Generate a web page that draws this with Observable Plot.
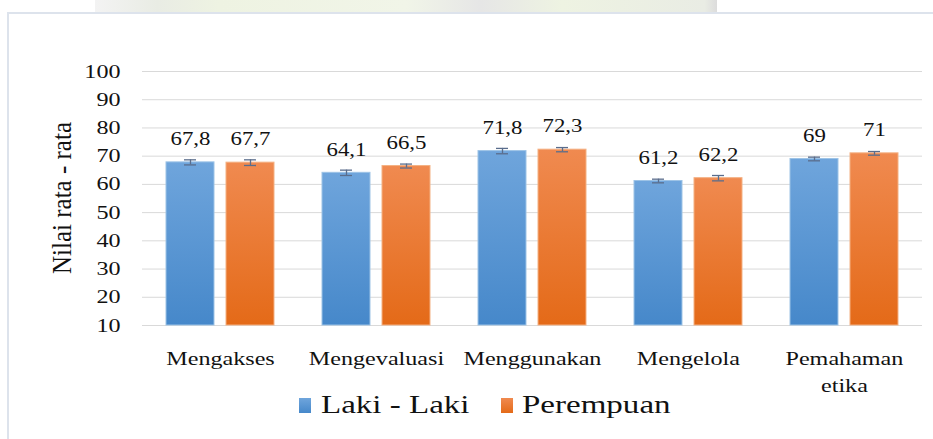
<!DOCTYPE html>
<html>
<head>
<meta charset="utf-8">
<script src="https://cdn.jsdelivr.net/npm/d3@7"></script>
<script src="https://cdn.jsdelivr.net/npm/@observablehq/plot@0.6"></script>
<style>
  html, body { margin: 0; padding: 0; background: #fff; }
  body { width: 933px; height: 439px; position: relative; overflow: hidden; }
  body, body *, svg text { font-family: "Liberation Serif", "Times New Roman", serif !important; }
  #topstrip { position: absolute; left: 95px; top: 0; width: 622px; height: 12px;
    background: linear-gradient(90deg, #f3f3f3 0%, #e9ece4 10%, #eef3e2 20%, #f1f5e8 50%, #e6e6e6 62%, #eef3e2 75%, #e9ece4 98%, #dcdcdc 100%); }
  #frameTop { position: absolute; left: 7px; top: 12px; width: 926px; height: 2px; background: #dde3ec; }
  #frameLeft { position: absolute; left: 7px; top: 12px; width: 2px; height: 427px; background: #dde3ec; }
  #chart { position: absolute; left: 0; top: 0; }
  #ylabel { position: absolute; left: 62px; top: 198px; transform: translate(-50%, -50%) rotate(-90deg) scaleY(1.1);
    font-size: 25px; color: #111; white-space: nowrap; }
  .sw { position: absolute; top: 398px; width: 12px; height: 15px; }
  .lt { position: absolute; top: 389px; font-size: 26px; line-height: 32px; color: #111; white-space: nowrap;
    transform: scaleX(1.27); transform-origin: left center; }
</style>
</head>
<body>
<div id="topstrip"></div>
<div id="frameTop"></div>
<div id="frameLeft"></div>
<div id="chart"></div>
<div id="ylabel">Nilai rata - rata</div>
<div id="legend"></div>
<script>
const categories = ["Mengakses", "Mengevaluasi", "Menggunakan", "Mengelola", "Pemahaman etika"];
const series = ["Laki - Laki", "Perempuan"];
const lakiValues = [67.8, 64.1, 71.8, 61.2, 69];
const perempuanValues = [67.7, 66.5, 72.3, 62.2, 71];
const lakiErrors = [0.9, 0.95, 0.95, 0.65, 0.65];
const perempuanErrors = [1.0, 0.7, 0.75, 0.95, 0.65];
const yTicks = [10, 20, 30, 40, 50, 60, 70, 80, 90, 100];

const rows = [];
categories.forEach((c, i) => {
  rows.push({cat: c, series: series[0], value: lakiValues[i], err: lakiErrors[i]});
  rows.push({cat: c, series: series[1], value: perempuanValues[i], err: perempuanErrors[i]});
});
const fmt = v => String(v).replace(".", ",");
const serif = '"Liberation Serif", "Times New Roman", serif';

const plot = Plot.plot({
  width: 933,
  height: 439,
  marginTop: 71,
  marginBottom: 114,
  marginLeft: 141,
  marginRight: 11,
  style: {fontFamily: serif, color: "#111", background: "transparent", overflow: "visible"},
  fx: {domain: categories, padding: 0, label: null},
  x: {domain: series, paddingInner: 0.2, paddingOuter: 0.4, axis: null},
  y: {domain: [10, 100], label: null},
  marks: [
    Plot.gridY(yTicks, {stroke: "#d9d9d9", strokeOpacity: 1, strokeWidth: 1}),
    Plot.axisY(yTicks, {tickSize: 0, tickPadding: 22, fontSize: 19, label: null, fontFamily: serif}),
    Plot.axisFx({anchor: "bottom", tickSize: 0, tickPadding: 20, fontSize: 19, lineHeight: 1.42, label: null,
      fontFamily: serif, tickFormat: d => d.replace(" ", "\n")}),
    Plot.barY(rows.filter(d => d.series === series[0]), {fx: "cat", x: "series", y1: 10, y2: "value",
      fill: "url(#gradL)", stroke: "#9dc3e6", strokeWidth: 1}),
    Plot.barY(rows.filter(d => d.series === series[1]), {fx: "cat", x: "series", y1: 10, y2: "value",
      fill: "url(#gradP)", stroke: "#f4b183", strokeWidth: 1}),
    Plot.ruleX(rows, {fx: "cat", x: "series", y1: d => d.value - d.err, y2: d => d.value + d.err,
      stroke: "#5a6d8c", strokeWidth: 1.3}),
    Plot.tickY(rows, {fx: "cat", x: "series", y: d => d.value - d.err, stroke: "#5a6d8c", strokeWidth: 1.3, insetLeft: 18, insetRight: 18}),
    Plot.tickY(rows, {fx: "cat", x: "series", y: d => d.value + d.err, stroke: "#5a6d8c", strokeWidth: 1.3, insetLeft: 18, insetRight: 18}),
    Plot.text(rows, {fx: "cat", x: "series", y: "value", text: d => fmt(d.value), dy: -23,
      fontSize: 18, fill: "#111", lineAnchor: "middle", fontFamily: serif})
  ]
});

// gradients
const ns = "http://www.w3.org/2000/svg";
const defs = document.createElementNS(ns, "defs");
function grad(id, top, bottom) {
  const g = document.createElementNS(ns, "linearGradient");
  g.setAttribute("id", id);
  g.setAttribute("x1", "0"); g.setAttribute("y1", "0");
  g.setAttribute("x2", "0"); g.setAttribute("y2", "1");
  [[0, top], [1, bottom]].forEach(([o, c]) => {
    const s = document.createElementNS(ns, "stop");
    s.setAttribute("offset", o);
    s.setAttribute("stop-color", c);
    g.appendChild(s);
  });
  defs.appendChild(g);
}
grad("gradL", "#6fa5dc", "#4688ca");
grad("gradP", "#f08a50", "#e46a18");
plot.insertBefore(defs, plot.firstChild);
document.getElementById("chart").appendChild(plot);

// widen glyphs horizontally like the reference (which is stretched horizontally)
const stretch = 1.27;
plot.querySelectorAll("text").forEach(t => {
  const bb = t.getBBox();
  const anchor = getComputedStyle(t).textAnchor;
  const cx = anchor === "end" ? bb.x + bb.width : anchor === "middle" ? bb.x + bb.width / 2 : bb.x;
  const prev = t.getAttribute("transform") || "";
  t.setAttribute("transform", `${prev} translate(${cx},0) scale(${stretch},1) translate(${-cx},0)`);
});

// legend
const legendColors = ["linear-gradient(#6fa5dc, #4688ca)", "linear-gradient(#f08a50, #e46a18)"];
const legendSwatchX = [299, 501];
const legendTextX = [321, 522];
const legend = document.getElementById("legend");
series.forEach((s, i) => {
  const sw = document.createElement("div");
  sw.className = "sw";
  sw.style.left = legendSwatchX[i] + "px";
  sw.style.background = legendColors[i];
  const t = document.createElement("div");
  t.className = "lt";
  t.style.left = legendTextX[i] + "px";
  t.textContent = s;
  legend.appendChild(sw);
  legend.appendChild(t);
});
</script>
</body>
</html>
